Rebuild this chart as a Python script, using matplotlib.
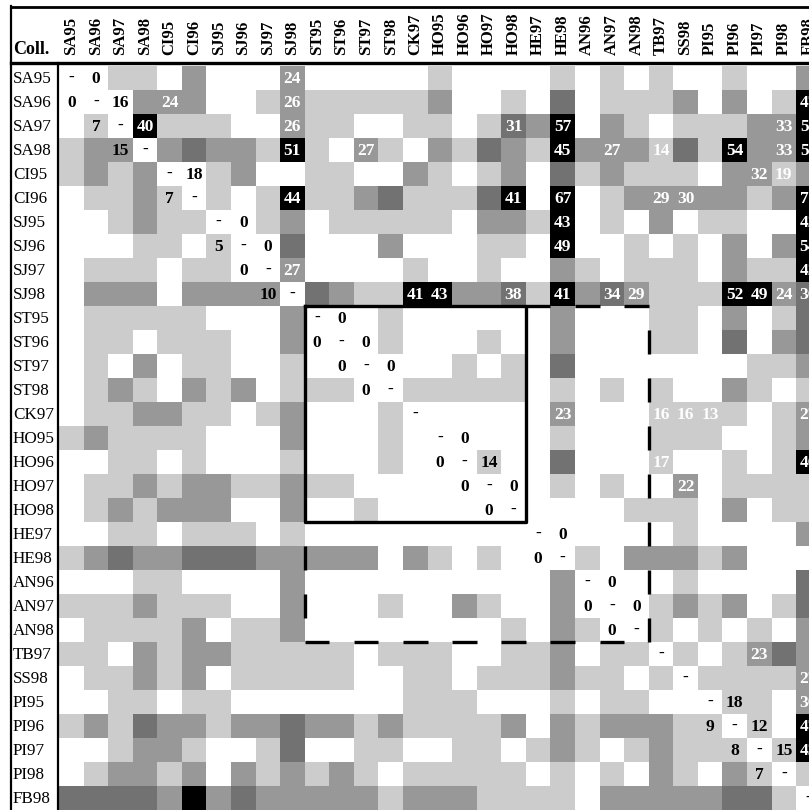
import numpy as np
import matplotlib
matplotlib.use("Agg")
import matplotlib.pyplot as plt
from matplotlib.colors import ListedColormap
from matplotlib.lines import Line2D

# collections (rows and columns share the same order)
names = ["SA95", "SA96", "SA97", "SA98", "CI95", "CI96", "SJ95", "SJ96", "SJ97", "SJ98",
         "ST95", "ST96", "ST97", "ST98", "CK97", "HO95", "HO96", "HO97", "HO98",
         "HE97", "HE98", "AN96", "AN97", "AN98", "TB97", "SS98", "PI95", "PI96", "PI97",
         "PI98", "FB98"]

# shading class of each cell: 0 white, 1 light, 2 medium, 3 dark, 4 black
shade_rows = [
    "0011020002" "0000010000" "1010100100" "2",
    "0002220012" "1111120010" "3011120201" "4",
    "0104111002" "1100110132" "4021011122" "4",
    "1220232214" "1021021321" "4222131422" "4",
    "1212001200" "1100210120" "3121110221" "2",
    "0112101014" "1123111340" "4012222212" "4",
    "0012110012" "0111110221" "4010201100" "4",
    "0001101003" "0002000110" "4001010202" "4",
    "0111011002" "0000100100" "2101110211" "4",
    "0222022220" "3211442231" "4232111442" "3",
    "0111110002" "0001000000" "2000110201" "3",
    "0110111002" "0001000100" "2000110302" "3",
    "0102011001" "0000001010" "3000000011" "2",
    "0121021201" "1100111110" "1010100210" "1",
    "0112211012" "0001000000" "2000111101" "2",
    "1211110002" "0001000000" "1000111001" "2",
    "0011010001" "0001000100" "3000100101" "4",
    "0112122112" "1100000000" "1010020111" "1",
    "0121222002" "0010000000" "0001110201" "1",
    "0011011101" "0000000000" "0000010000" "2",
    "1232233322" "2220210100" "0102221200" "0",
    "0001100002" "0000000000" "2000010000" "3",
    "1112111002" "0001002100" "2000121201" "3",
    "0111120112" "0000000010" "2100101010" "2",
    "1102122111" "1101110011" "2011010123" "2",
    "0112120111" "1100110111" "2110101111" "2",
    "0011011000" "0000111000" "1011000110" "2",
    "1213221223" "2212111120" "2122211010" "4",
    "0012210013" "0011001101" "2101211101" "4",
    "0122120212" "1210111110" "1010210210" "1",
    "3333242322" "2221222111" "1022222331" "0",
]
shade_colors = ["#ffffff", "#cccccc", "#989898", "#727272", "#000000"]

# numbers printed in black (within-group values)
black_labels = [
    ("SA95", "SA96", "0"), ("SA96", "SA95", "0"), ("SA96", "SA97", "16"),
    ("SA97", "SA96", "7"), ("SA98", "SA97", "15"), ("CI95", "CI96", "18"),
    ("CI96", "CI95", "7"), ("SJ95", "SJ96", "0"), ("SJ96", "SJ95", "5"),
    ("SJ96", "SJ97", "0"), ("SJ97", "SJ96", "0"), ("SJ98", "SJ97", "10"),
    ("ST95", "ST96", "0"), ("ST96", "ST95", "0"), ("ST96", "ST97", "0"),
    ("ST97", "ST96", "0"), ("ST97", "ST98", "0"), ("ST98", "ST97", "0"),
    ("HO95", "HO96", "0"), ("HO96", "HO95", "0"), ("HO96", "HO97", "14"),
    ("HO97", "HO96", "0"), ("HO97", "HO98", "0"), ("HO98", "HO97", "0"),
    ("HE97", "HE98", "0"), ("HE98", "HE97", "0"), ("AN96", "AN97", "0"),
    ("AN97", "AN96", "0"), ("AN97", "AN98", "0"), ("AN98", "AN97", "0"),
    ("PI95", "PI96", "18"), ("PI96", "PI95", "9"), ("PI96", "PI97", "12"),
    ("PI97", "PI96", "8"), ("PI97", "PI98", "15"), ("PI98", "PI97", "7"),
]

# numbers printed in white (between-group values)
white_labels = [
    ("SA95", "SJ98", "24"), ("SA96", "CI95", "24"), ("SA96", "SJ98", "26"), ("SA96", "FB98", "47"),
    ("SA97", "SA98", "40"), ("SA97", "SJ98", "26"), ("SA97", "HO98", "31"), ("SA97", "HE98", "57"),
    ("SA97", "PI98", "33"), ("SA97", "FB98", "55"),
    ("SA98", "SJ98", "51"), ("SA98", "ST97", "27"), ("SA98", "HE98", "45"), ("SA98", "AN97", "27"),
    ("SA98", "TB97", "14"), ("SA98", "PI96", "54"), ("SA98", "PI98", "33"), ("SA98", "FB98", "55"),
    ("CI95", "PI97", "32"), ("CI95", "PI98", "19"),
    ("CI96", "SJ98", "44"), ("CI96", "HO98", "41"), ("CI96", "HE98", "67"), ("CI96", "TB97", "29"),
    ("CI96", "SS98", "30"), ("CI96", "FB98", "71"),
    ("SJ95", "HE98", "43"), ("SJ95", "FB98", "42"), ("SJ96", "HE98", "49"), ("SJ96", "FB98", "54"),
    ("SJ97", "SJ98", "27"), ("SJ97", "FB98", "42"),
    ("SJ98", "CK97", "41"), ("SJ98", "HO95", "43"), ("SJ98", "HO98", "38"), ("SJ98", "HE98", "41"),
    ("SJ98", "AN97", "34"), ("SJ98", "AN98", "29"), ("SJ98", "PI96", "52"), ("SJ98", "PI97", "49"),
    ("SJ98", "PI98", "24"), ("SJ98", "FB98", "36"),
    ("CK97", "HE98", "23"), ("CK97", "TB97", "16"), ("CK97", "SS98", "16"), ("CK97", "PI95", "13"),
    ("CK97", "FB98", "27"), ("HO96", "TB97", "17"), ("HO96", "FB98", "46"), ("HO97", "SS98", "22"),
    ("TB97", "PI97", "23"), ("SS98", "FB98", "27"), ("PI95", "FB98", "36"), ("PI96", "FB98", "47"),
    ("PI97", "FB98", "43"),
]

W, H = 809, 810
x0, cw = 59, 24.57
y0, rh = 66, 24
n = len(names)
serif = "Liberation Serif"

levels = np.array([[int(c) for c in r] for r in shade_rows])

fig = plt.figure(figsize=(W / 100, H / 100), dpi=100)
ax = fig.add_axes([x0 / W, 0, n * cw / W, (H - y0) / H])
ax.pcolormesh(np.arange(n + 1), np.arange(n + 1), levels,
              cmap=ListedColormap(shade_colors), vmin=-0.5, vmax=4.5)
ax.set_xlim(0, n)
ax.set_ylim(n, 0)
ax.axis("off")

idx = {nm: i for i, nm in enumerate(names)}
cell_font = dict(ha="center", va="center", fontsize=12.5, fontweight="bold", family=serif)
for i in range(n):
    ax.text(i + 0.5, i + 0.5, "-", color="black", **cell_font)
for r, c, t in black_labels:
    ax.text(idx[c] + 0.5, idx[r] + 0.55, t, color="black", **cell_font)
for r, c, t in white_labels:
    ax.text(idx[c] + 0.5, idx[r] + 0.55, t, color="white", **cell_font)

# row and column labels
for i, nm in enumerate(names):
    ax.text(-1.87, i + 0.55, nm, ha="left", va="center", fontsize=12.3, family=serif, clip_on=False)
    ax.text(i + 0.5, -0.45, nm, ha="center", va="bottom", rotation=90, fontsize=12,
            fontweight="bold", family=serif, clip_on=False)
ax.text(-1.87, -0.35, "Coll.", ha="left", va="bottom", fontsize=13, fontweight="bold",
        family=serif, clip_on=False)

# solid box around the ST/CK/HO block
ax.plot([10, 19, 19, 10, 10], [10, 10, 19, 19, 10], color="black", lw=2.4,
        clip_on=False, solid_capstyle="projecting")
# dashed outline of the larger block
dash_kw = dict(color="black", lw=2.4, clip_on=False, solid_capstyle="butt")
for c in [19, 21, 23]:
    ax.plot([c, c + 1], [10, 10], **dash_kw)
for c in range(10, 24, 2):
    ax.plot([c, c + 1], [24, 24], **dash_kw)
for r in range(11, 24, 2):
    ax.plot([24, 24], [r, r + 1], **dash_kw)
for r in [20, 22]:
    ax.plot([10, 10], [r, r + 1], **dash_kw)

# table frame
def fline(xa, ya, xb, yb, lw):
    fig.add_artist(Line2D([xa / W, xb / W], [1 - ya / H, 1 - yb / H], color="black", lw=lw))

fline(11, 7, W, 7, 2.0)
fline(11, 63, W, 63, 2.4)
fline(11, 6, 11, H, 1.6)
fline(58, 63, 58, H, 1.6)

fig.savefig("out.png", dpi=100)
